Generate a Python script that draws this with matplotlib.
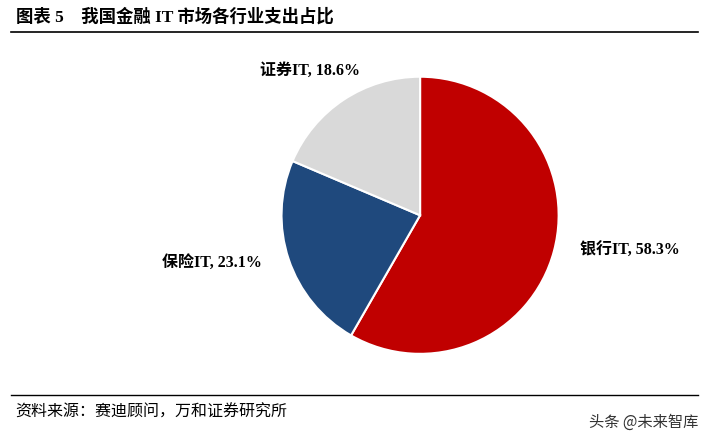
import matplotlib
matplotlib.use("Agg")
import matplotlib.pyplot as plt

# -----------------------------
# data
# -----------------------------
sectors = ["银行IT", "保险IT", "证券IT"]
shares = [58.3, 23.1, 18.6]
colors = ["#C00000", "#1F497D", "#D9D9D9"]

fams = ["Liberation Serif", "Noto Sans CJK SC"]

fig = plt.figure(figsize=(7.09, 4.38), dpi=100)

# pie axes, placed to match the reference
ax = fig.add_axes([0.395, 0.189, 0.395, 0.639])
ax.pie(shares, colors=colors, startangle=90, counterclock=False,
       wedgeprops=dict(edgecolor="white", linewidth=1.5))
ax.set_xlim(-1.01, 1.01)
ax.set_ylim(-1.01, 1.01)
ax.set_aspect("equal")

# labels
label_pos = [(0.818, 0.428, "left"), (0.370, 0.400, "right"), (0.508, 0.838, "right")]
for name, val, (x, y, ha) in zip(sectors, shares, label_pos):
    fig.text(x, y, f"{name}, {val}%", ha=ha, va="center", fontsize=11.5,
             fontweight="bold", family=fams)

# title and rules
fig.text(0.022, 0.962, "图表 5    我国金融 IT 市场各行业支出占比", ha="left", va="center",
         fontsize=12.5, fontweight="bold", family=fams)
fig.add_artist(plt.Line2D([0.015, 0.985], [0.928, 0.928], color="black", lw=1.2))
fig.add_artist(plt.Line2D([0.015, 0.985], [0.098, 0.098], color="black", lw=1.0))

fig.text(0.022, 0.060, "资料来源：赛迪顾问，万和证券研究所", ha="left", va="center",
         fontsize=11.5, family=["Noto Sans CJK SC"])
fig.text(0.985, 0.035, "头条 @未来智库", ha="right", va="center",
         fontsize=11, color="#333333", family=["Noto Sans CJK SC"])

fig.savefig("out.png", dpi=100)
